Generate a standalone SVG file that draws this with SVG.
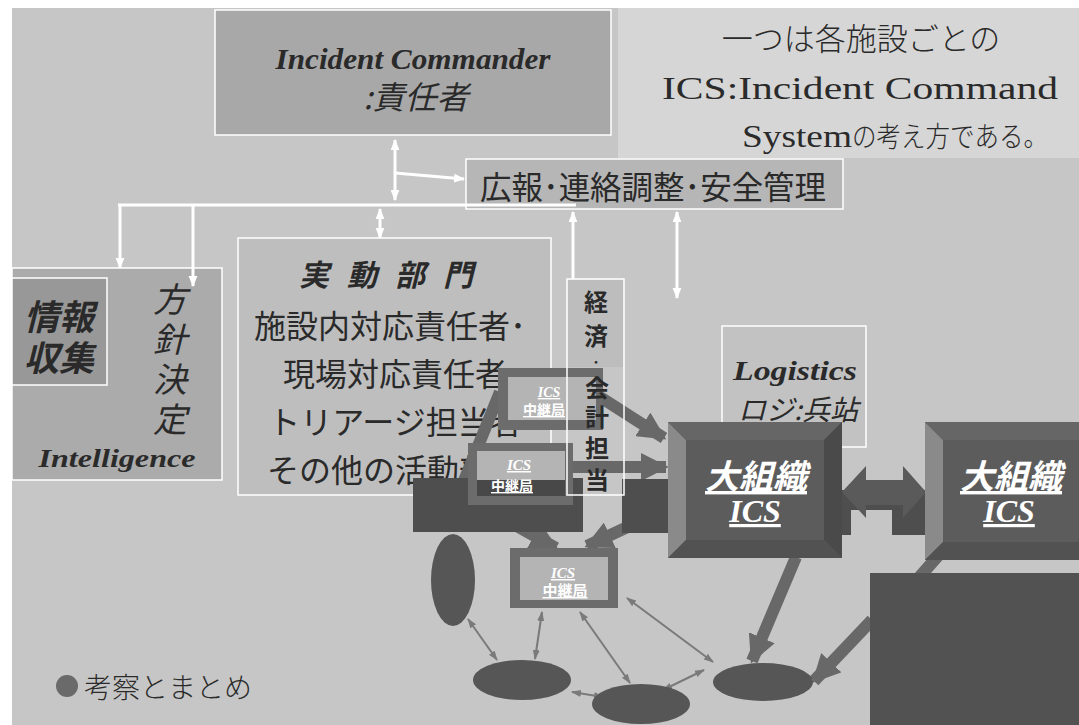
<svg xmlns="http://www.w3.org/2000/svg" width="1079" height="725" viewBox="0 0 1079 725">
<defs>
<style>
.bx{stroke:#ffffff;stroke-width:1.5}
.jp{font-family:"Noto Sans CJK JP","Liberation Sans",sans-serif;fill:#2a2a2a}
.ser{font-family:"Liberation Serif","Noto Sans CJK JP",serif;fill:#2a2a2a}
.it{font-style:italic}
.bd{font-weight:bold}
.lt{font-weight:300}
.wl{stroke:#ffffff;stroke-width:3;fill:none}
.tk{stroke:#686868;stroke-width:12;fill:none}
.tn{stroke:#7a7a7a;stroke-width:2;fill:none}
.wt{fill:#ffffff;text-decoration:underline}
.dark{fill:#4e4e4e}
.ell{fill:#565656}
</style>
<marker id="wa" viewBox="0 0 10 10" refX="9" refY="5" markerWidth="11" markerHeight="11" markerUnits="userSpaceOnUse" orient="auto-start-reverse"><path d="M0,1 L10,5 L0,9 z" fill="#ffffff"/></marker>
<marker id="ta" viewBox="0 0 10 10" refX="9" refY="5" markerWidth="28" markerHeight="28" markerUnits="userSpaceOnUse" orient="auto"><path d="M0,0 L10,5 L0,10 z" fill="#686868"/></marker>
<marker id="na" viewBox="0 0 10 10" refX="9" refY="5" markerWidth="10" markerHeight="10" markerUnits="userSpaceOnUse" orient="auto-start-reverse"><path d="M0,1.5 L10,5 L0,8.5 z" fill="#7a7a7a"/></marker>
</defs>

<rect x="0" y="0" width="1079" height="725" fill="#ffffff"/>
<rect x="12" y="8" width="1067" height="717" fill="#c6c6c6"/>

<g id="note">
<rect x="618" y="8" width="461" height="150" fill="#d6d6d6"/>
<text class="jp lt" x="861" y="50" font-size="31" text-anchor="middle" fill="#333">一つは各施設ごとの</text>
<text class="ser" x="662" y="99" font-size="31" textLength="396" lengthAdjust="spacingAndGlyphs" fill="#333">ICS:Incident Command</text>
<text class="ser" x="742" y="147" font-size="31" textLength="110" lengthAdjust="spacingAndGlyphs" fill="#333">System</text>
<text class="jp lt" x="852" y="147" font-size="28" textLength="196" lengthAdjust="spacingAndGlyphs" fill="#333">の考え方である。</text>
</g>

<g id="incident-commander">
<rect class="bx" x="215" y="10" width="396" height="125" fill="#a8a8a8"/>
<text class="ser it bd" x="413" y="69" font-size="30" text-anchor="middle" textLength="275" lengthAdjust="spacingAndGlyphs" fill="#3c3c3c">Incident Commander</text>
<text class="jp it" x="416" y="109" font-size="32" text-anchor="middle" fill="#3c3c3c">:責任者</text>
</g>

<g id="kouhou">
<rect class="bx" x="466" y="159" width="377" height="50" fill="#b6b6b6"/>
<text class="jp" x="653" y="199" font-size="32" text-anchor="middle" textLength="346" lengthAdjust="spacingAndGlyphs">広報･連絡調整･安全管理</text>
</g>

<g id="intelligence">
<rect class="bx" x="12" y="268" width="210" height="212" fill="#ababab"/>
<rect class="bx" x="12" y="278" width="95" height="107" fill="#989898"/>
<text class="jp it bd" x="59" y="330" font-size="35" text-anchor="middle" fill="#4a4a4a">情報</text>
<text class="jp it bd" x="59" y="371" font-size="35" text-anchor="middle" fill="#4a4a4a">収集</text>
<text class="jp it" x="170" y="312" font-size="34" text-anchor="middle" fill="#3a3a3a">方</text>
<text class="jp it" x="170" y="352" font-size="34" text-anchor="middle" fill="#3a3a3a">針</text>
<text class="jp it" x="170" y="392" font-size="34" text-anchor="middle" fill="#3a3a3a">決</text>
<text class="jp it" x="170" y="432" font-size="34" text-anchor="middle" fill="#3a3a3a">定</text>
<text class="ser it bd" x="117" y="467" font-size="26" text-anchor="middle" textLength="157" lengthAdjust="spacingAndGlyphs" fill="#3a3a3a">Intelligence</text>
</g>

<g id="operations">
<rect class="bx" x="238" y="238" width="313" height="257" fill="#bebebe"/>
<text class="jp it bd" x="395" y="286" font-size="30" text-anchor="middle" letter-spacing="18">実動部門</text>
<text class="jp" x="390" y="338" font-size="32" text-anchor="middle">施設内対応責任者･</text>
<text class="jp" x="395" y="386" font-size="32" text-anchor="middle">現場対応責任者</text>
<text class="jp" x="395" y="434" font-size="32" text-anchor="middle">トリアージ担当者</text>
<text class="jp" x="395" y="482" font-size="32" text-anchor="middle">その他の活動部門</text>
</g>

<g id="logistics">
<rect class="bx" x="722" y="326" width="144" height="121" fill="#c2c2c2"/>
<text class="ser it bd" x="795" y="380" font-size="28" text-anchor="middle" textLength="124" lengthAdjust="spacingAndGlyphs" fill="#333">Logistics</text>
<text class="jp it" x="798" y="420" font-size="28" text-anchor="middle" fill="#333">ロジ:兵站</text>
</g>

<g id="connectors">
<line class="wl" x1="395" y1="140" x2="395" y2="200" marker-start="url(#wa)" marker-end="url(#wa)"/>
<line class="wl" x1="395" y1="173" x2="464" y2="179" marker-end="url(#wa)"/>
<line class="wl" x1="118" y1="205" x2="576" y2="205"/>
<line class="wl" x1="120" y1="205" x2="120" y2="268" marker-end="url(#wa)"/>
<line class="wl" x1="193" y1="205" x2="193" y2="286" marker-end="url(#wa)"/>
<line class="wl" x1="380" y1="209" x2="380" y2="238" marker-start="url(#wa)" marker-end="url(#wa)"/>
<line class="wl" x1="573" y1="279" x2="573" y2="212" marker-end="url(#wa)"/>
<line class="wl" x1="677" y1="212" x2="677" y2="298" marker-start="url(#wa)" marker-end="url(#wa)"/>

<line class="tk" x1="500" y1="392" x2="444" y2="530"/>
<line class="tk" x1="600" y1="397" x2="664" y2="438" marker-end="url(#ta)"/>
<line class="tk" x1="572" y1="467" x2="666" y2="467" marker-end="url(#ta)"/>
<line class="tk" x1="668" y1="508" x2="587" y2="546" marker-end="url(#ta)"/>
<line class="tk" x1="470" y1="500" x2="556" y2="548" marker-end="url(#ta)"/>
<line class="tk" x1="796" y1="557" x2="752" y2="661" marker-end="url(#ta)"/>
<line class="tk" x1="872" y1="620" x2="814" y2="681" marker-end="url(#ta)"/>
<line class="tk" x1="945" y1="548" x2="915" y2="582"/>

<line class="tn" x1="468" y1="619" x2="497" y2="660" marker-start="url(#na)" marker-end="url(#na)"/>
<line class="tn" x1="542" y1="612" x2="535" y2="659" marker-start="url(#na)" marker-end="url(#na)"/>
<line class="tn" x1="580" y1="612" x2="630" y2="683" marker-start="url(#na)" marker-end="url(#na)"/>
<line class="tn" x1="627" y1="598" x2="713" y2="662" marker-start="url(#na)" marker-end="url(#na)"/>
<line class="tn" x1="572" y1="692" x2="603" y2="697" marker-start="url(#na)" marker-end="url(#na)"/>
<line class="tn" x1="663" y1="690" x2="704" y2="670" marker-start="url(#na)" marker-end="url(#na)"/>
</g>

<g id="shadow-blocks">
<rect class="dark" x="413" y="478" width="170" height="54"/>
<rect class="dark" x="622" y="479" width="46" height="54"/>
<rect class="dark" x="842" y="490" width="83" height="45"/>
<rect x="851" y="510" width="41" height="26" fill="#c6c6c6"/>
</g>

<g id="relay-1">
<rect x="498" y="368" width="105" height="62" fill="#6c6c6c"/>
<rect x="508" y="377" width="88" height="43" fill="#b4b4b4"/>
<text class="ser it bd wt" x="549" y="397" font-size="14" text-anchor="middle">ICS</text>
<text class="jp bd wt" x="544" y="415" font-size="14" text-anchor="middle">中継局</text>
</g>

<g id="relay-2">
<rect x="468" y="443" width="105" height="62" fill="#6c6c6c"/>
<rect x="477" y="451" width="88" height="29" fill="#b4b4b4"/>
<rect x="477" y="480" width="88" height="16" fill="#484848"/>
<text class="ser it bd wt" x="519" y="470" font-size="15" text-anchor="middle">ICS</text>
<text class="jp bd wt" x="512" y="491" font-size="14" text-anchor="middle">中継局</text>
</g>

<g id="relay-3">
<rect x="510" y="548" width="108" height="60" fill="#6c6c6c"/>
<rect x="520" y="557" width="88" height="43" fill="#b4b4b4"/>
<text class="ser it bd wt" x="563" y="578" font-size="15" text-anchor="middle">ICS</text>
<text class="jp bd wt" x="565" y="596" font-size="15" text-anchor="middle">中継局</text>
</g>

<g id="finance">
<rect class="bx" x="567" y="279" width="57" height="216" fill="none"/>
<rect x="568" y="280" width="55" height="87" fill="#bdbdbd"/>
<g class="jp bd" font-size="24" text-anchor="middle" fill="#2e2e2e">
<text x="596" y="311">経</text>
<text x="596" y="345">済</text>
<text x="596" y="367" font-size="14">･</text>
<text x="597" y="397">会</text>
<text x="597" y="426">計</text>
<text x="597" y="457">担</text>
<text x="597" y="489">当</text>
</g>
</g>

<g id="link-arrow">
<path d="M842,492 L866,466 L866,480 L903,480 L903,466 L926,492 L903,518 L903,505 L866,505 L866,518 Z" fill="#5a5a5a"/>
</g>

<g id="large-ics-1">
<rect x="668" y="422" width="174" height="136" fill="#5c5c5c"/>
<polygon points="668,422 686,440 686,540 668,558" fill="#8a8a8a"/>
<polygon points="668,422 842,422 824,440 686,440" fill="#666666"/>
<polygon points="842,422 842,558 824,540 824,440" fill="#4a4a4a"/>
<polygon points="668,558 842,558 824,540 686,540" fill="#525252"/>
<text class="jp it bd wt" x="756" y="489" font-size="34" text-anchor="middle">大組織</text>
<text class="ser it bd wt" x="755" y="522" font-size="32" text-anchor="middle">ICS</text>
</g>

<g id="large-ics-2">
<rect x="925" y="422" width="174" height="138" fill="#5c5c5c"/>
<polygon points="925,422 943,440 943,542 925,560" fill="#8a8a8a"/>
<polygon points="925,422 1099,422 1081,440 943,440" fill="#666666"/>
<polygon points="925,560 1099,560 1081,542 943,542" fill="#525252"/>
<text class="jp it bd wt" x="1011" y="489" font-size="34" text-anchor="middle">大組織</text>
<text class="ser it bd wt" x="1009" y="522" font-size="32" text-anchor="middle">ICS</text>
</g>

<g id="unit-a"><ellipse class="ell" cx="453" cy="580" rx="22" ry="46"/></g>
<g id="unit-b"><ellipse class="ell" cx="522" cy="680" rx="49" ry="20"/></g>
<g id="unit-c"><ellipse class="ell" cx="641" cy="704" rx="49" ry="20"/></g>
<g id="unit-d"><ellipse class="ell" cx="763" cy="682" rx="50" ry="19"/></g>

<g id="dark-block">
<rect x="870" y="573" width="209" height="152" fill="#525252"/>
</g>

<g id="footer">
<circle cx="67" cy="686" r="11" fill="#6a6a6a"/>
<text class="jp lt" x="84" y="698" font-size="28" fill="#a2a2a2">考察とまとめ</text>
</g>
</svg>
